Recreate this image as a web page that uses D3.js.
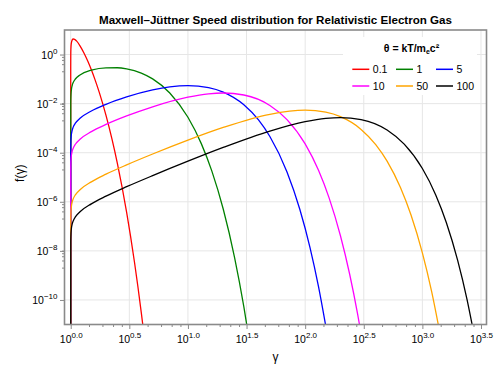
<!DOCTYPE html>
<html>
<head>
<meta charset="utf-8">
<script src="https://cdn.jsdelivr.net/npm/d3@7"></script>
<style>
  html, body { margin: 0; padding: 0; background: #fff; }
  svg { display: block; font-family: "Liberation Sans", Arial, Helvetica, sans-serif; }
</style>
</head>
<body>
<svg id="chart" width="500" height="375"></svg>
<script>
// values (gamma, f(gamma)); f = 0 at gamma = 1
const thetaLabels = ["0.1", "1", "5", "10", "50", "100"]

const gamma01 = [1, 1.0001, 1.001, 1.003, 1.01, 1.03, 1.05, 1.08, 1.12, 1.2, 1.3, 1.4, 1.5, 1.6, 1.75, 2, 2.25, 2.5, 3, 3.5, 4, 4.2]
const f01 = [0, 0.298, 0.936, 1.593, 2.735, 3.975, 4.303, 4.178, 3.591, 2.273, 1.135, 0.5304, 0.2385, 0.1046, 0.02934, 3.319e-3, 3.567e-4, 3.698e-5, 3.691e-7, 3.442e-9, 3.06e-11, 4.58e-12]

const gamma1 = [1, 1.001, 1.003, 1.01, 1.03, 1.05, 1.1, 1.2, 1.5, 2, 2.5, 3, 4, 5, 7, 10, 13, 16, 20, 25, 30, 33]
const f1 = [0, 1.013e-2, 1.755e-2, 3.21e-2, 5.585e-2, 7.239e-2, 0.1033, 0.1476, 0.2303, 0.2885, 0.2894, 0.26, 0.1747, 0.1016, 2.722e-2, 2.78e-3, 2.344e-4, 1.773e-5, 5.074e-7, 5.343e-9, 5.184e-11, 3.123e-12]

const gamma5 = [1, 1.001, 1.003, 1.01, 1.03, 1.05, 1.1, 1.2, 1.5, 2, 3, 5, 7, 10, 15, 20, 30, 40, 50, 70, 90, 110, 130, 150]
const f5 = [0, 1.481e-4, 2.571e-4, 4.728e-4, 8.359e-4, 1.101e-3, 1.634e-3, 2.53e-3, 5.02e-3, 9.382e-3, 1.8815e-2, 3.641e-2, 4.832e-2, 5.441e-2, 4.516e-2, 2.957e-2, 9.015e-3, 2.169e-3, 4.586e-4, 1.646e-5, 4.984e-7, 1.364e-8, 3.488e-10, 8.507e-12]

const gamma10 = [1, 1.001, 1.003, 1.01, 1.03, 1.05, 1.1, 1.2, 1.5, 2, 3, 5, 10, 15, 20, 30, 50, 70, 100, 130, 160, 200, 240, 280, 300]
const f10 = [0, 2.031e-5, 3.526e-5, 6.49e-5, 1.149e-4, 1.517e-4, 2.264e-4, 3.539e-4, 7.236e-4, 1.4215e-3, 3.151e-3, 7.447e-3, 1.835e-2, 2.511e-2, 2.709e-2, 2.246e-2, 8.443e-3, 2.24e-3, 2.276e-4, 1.915e-5, 1.444e-6, 4.132e-8, 1.09e-9, 2.717e-11, 4.22e-12]

const gamma50 = [1, 1.001, 1.003, 1.01, 1.03, 1.05, 1.1, 1.2, 1.5, 2, 3, 5, 10, 20, 50, 100, 150, 200, 300, 400, 500, 650, 800, 1000, 1200, 1400]
const f50 = [0, 1.755e-7, 3.049e-7, 5.61e-7, 9.96e-7, 1.317e-6, 1.972e-6, 3.109e-6, 6.51e-6, 1.331e-5, 3.197e-5, 8.865e-5, 3.258e-4, 1.071e-3, 3.679e-3, 5.413e-3, 4.481e-3, 2.931e-3, 8.92e-4, 2.147e-4, 4.54e-5, 3.82e-6, 2.88e-7, 8.24e-9, 2.174e-10, 5.42e-12]

const gamma100 = [1, 1.001, 1.003, 1.01, 1.03, 1.05, 1.1, 1.2, 1.5, 2, 3, 5, 10, 20, 50, 100, 150, 200, 300, 500, 700, 1000, 1300, 1600, 2000, 2400, 2800]
const f100 = [0, 2.217e-8, 3.849e-8, 7.09e-8, 1.258e-7, 1.663e-7, 2.493e-7, 3.933e-7, 8.26e-7, 1.697e-6, 4.115e-6, 1.165e-5, 4.5e-5, 1.635e-4, 7.58e-4, 1.839e-3, 2.51e-3, 2.707e-3, 2.24e-3, 8.42e-4, 2.234e-4, 2.27e-5, 1.91e-6, 1.44e-7, 4.12e-9, 1.087e-10, 2.71e-12]

const xTickExps = [0, 0.5, 1, 1.5, 2, 2.5, 3, 3.5]
const yTickExps = [0, -2, -4, -6, -8, -10]

const series = [
  {key: thetaLabels[0], g: gamma01, f: f01},
  {key: thetaLabels[1], g: gamma1, f: f1},
  {key: thetaLabels[2], g: gamma5, f: f5},
  {key: thetaLabels[3], g: gamma10, f: f10},
  {key: thetaLabels[4], g: gamma50, f: f50},
  {key: thetaLabels[5], g: gamma100, f: f100},
]

const width = 500
const height = 375
const m = {top: 30, right: 13.5, bottom: 50.5, left: 64.5}
const iw = width - m.left - m.right
const ih = height - m.top - m.bottom

const spine = "#8a8a8a"
const grid = "#e6e6e6"

const svg = d3.select("#chart")
svg.append("rect").attr("width", width).attr("height", height).attr("fill", "#fff")

const x = d3.scaleLog().domain([10 ** -0.053, 10 ** 3.547]).range([0, iw])
const y = d3.scaleLog().domain([1e-11, 10]).range([ih, 0])

const color = d3.scaleOrdinal()
  .domain(thetaLabels)
  .range(["#ff0000", "#008000", "#0000ff", "#ff00ff", "#ffa500", "#000000"])

const g = svg.append("g").attr("transform", `translate(${m.left},${m.top})`)

const xMajor = xTickExps.map((e) => 10 ** e)
const yMajor = yTickExps.map((e) => 10 ** e)

// minor ticks: linear steps between neighbouring majors (one extra major on each side)
function minors(majors, step, n, dom) {
  const all = [majors[0] / step, ...majors, majors[majors.length - 1] * step].sort((a, b) => a - b)
  const out = []
  for (let i = 0; i < all.length - 1; i++) {
    const lo = all[i], hi = all[i + 1]
    for (let k = 1; k < n; k++) {
      const v = lo + (k * (hi - lo)) / n
      if (v >= dom[0] && v <= dom[1]) out.push(v)
    }
  }
  return out
}
const xMinor = minors(xMajor, 10 ** 0.5, 5, x.domain())
const yMinor = minors(yMajor, 100, 5, y.domain())

// grid
g.append("g")
  .selectAll("line")
  .data(xMajor)
  .join("line")
  .attr("x1", (d) => x(d)).attr("x2", (d) => x(d))
  .attr("y1", 0).attr("y2", ih)
  .attr("stroke", grid).attr("stroke-width", 1)
g.append("g")
  .selectAll("line")
  .data(yMajor)
  .join("line")
  .attr("y1", (d) => y(d)).attr("y2", (d) => y(d))
  .attr("x1", 0).attr("x2", iw)
  .attr("stroke", grid).attr("stroke-width", 1)

// curves
g.append("clipPath").attr("id", "clip")
  .append("rect").attr("width", iw).attr("height", ih)

const line = d3.line()
  .x((d) => x(d[0]))
  .y((d) => y(Math.max(d[1], 1e-14)))
  .curve(d3.curveMonotoneX)

g.append("g")
  .attr("clip-path", "url(#clip)")
  .selectAll("path")
  .data(series)
  .join("path")
  .attr("d", (s) => line(s.g.map((v, i) => [v, s.f[i]])))
  .attr("fill", "none")
  .attr("stroke", (s) => color(s.key))
  .attr("stroke-width", 1.3)

// axes
function styleAxis(sel) {
  sel.select(".domain").remove()
  sel.selectAll(".tick line").attr("stroke", spine).attr("stroke-width", 1)
}

g.append("g")
  .attr("transform", `translate(0,${ih})`)
  .call(d3.axisBottom(x).tickValues(xMinor).tickSize(2.5).tickFormat(""))
  .call(styleAxis)
g.append("g")
  .call(d3.axisLeft(y).tickValues(yMinor).tickSize(2.5).tickFormat(""))
  .call(styleAxis)

const xAxis = g.append("g")
  .attr("transform", `translate(0,${ih})`)
  .call(d3.axisBottom(x).tickValues(xMajor).tickSize(4.5).tickFormat(""))
  .call(styleAxis)
xAxis.selectAll(".tick text").remove()
xAxis.selectAll(".tick").each(function (d, i) {
  const t = d3.select(this).append("text")
    .attr("y", 18.7)
    .attr("fill", "#000")
    .attr("text-anchor", "middle")
    .attr("font-size", 10.5)
  t.append("tspan").text("10")
  t.append("tspan").attr("dy", -5.5).attr("font-size", 8).text(xTickExps[i].toFixed(1))
})

const yAxis = g.append("g")
  .call(d3.axisLeft(y).tickValues(yMajor).tickSize(4.5).tickFormat(""))
  .call(styleAxis)
yAxis.selectAll(".tick text").remove()
yAxis.selectAll(".tick").each(function (d, i) {
  const t = d3.select(this).append("text")
    .attr("x", -7)
    .attr("y", 4)
    .attr("fill", "#000")
    .attr("text-anchor", "end")
    .attr("font-size", 10.5)
  t.append("tspan").text("10")
  const e = yTickExps[i]
  t.append("tspan").attr("dy", -5.5).attr("font-size", 8).text(e < 0 ? "\u2212" + Math.abs(e) : String(e))
})

// frame
g.append("rect")
  .attr("width", iw).attr("height", ih)
  .attr("fill", "none").attr("stroke", spine).attr("stroke-width", 1.6)

// labels
svg.append("text")
  .attr("x", m.left + iw / 2).attr("y", 23.5)
  .attr("text-anchor", "middle")
  .attr("font-size", 11.6)
  .attr("font-weight", "bold")
  .text("Maxwell\u2013J\u00fcttner Speed distribution for Relativistic Electron Gas")

svg.append("text")
  .attr("x", m.left + iw / 2).attr("y", 361)
  .attr("text-anchor", "middle")
  .attr("font-size", 12)
  .text("\u03b3")

svg.append("text")
  .attr("transform", `translate(24,${m.top + ih / 2 - 4}) rotate(-90)`)
  .attr("text-anchor", "middle")
  .attr("font-size", 12)
  .text("f(\u03b3)")

// legend
const lg = svg.append("g")
lg.append("rect")
  .attr("x", 343).attr("y", 37).attr("width", 134).attr("height", 58)
  .attr("fill", "#fff")

const lt = lg.append("text")
  .attr("x", 411.5).attr("y", 51.5)
  .attr("text-anchor", "middle")
  .attr("font-size", 10.5)
  .attr("font-weight", "bold")
lt.append("tspan").text("\u03b8 = kT/m")
lt.append("tspan").attr("font-size", 7).attr("dy", 2).text("e")
lt.append("tspan").attr("dy", -2).text("c\u00b2")

const colX = [352.3, 396, 436]
const rowY = [69.3, 86]
const items = lg.selectAll("g.item")
  .data(thetaLabels)
  .join("g")
  .attr("class", "item")
  .attr("transform", (d, i) => `translate(${colX[i % 3]},${rowY[Math.floor(i / 3)]})`)
items.append("line")
  .attr("x1", 0).attr("x2", 17)
  .attr("stroke", (d) => color(d))
  .attr("stroke-width", 1.5)
items.append("text")
  .attr("x", 20.5).attr("dy", "0.35em")
  .attr("font-size", 10.5)
  .text((d) => d)
</script>
</body>
</html>
